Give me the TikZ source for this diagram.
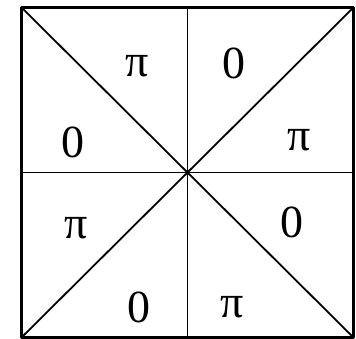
\documentclass[tikz,border=0pt]{standalone}
\usepackage{fontspec}
\setmainfont{Liberation Serif}
\usepackage{tkz-euclide}

\begin{document}
\begin{tikzpicture}[x=1pt,y=1pt,
  Lbl/.style={font=\fontsize{46}{46}\selectfont,inner sep=0pt}]
\useasboundingbox (0,0) rectangle (356,339);
\tkzSetUpLine[line width=1.8pt,color=black]

\tkzDefPoints{21.5/1.5/A,353.5/1.5/B,353.5/331.5/C,21.5/331.5/D}
\tkzDefPoints{187.5/1.5/S,187.5/331.5/N,21.5/166.5/W,353.5/166.5/E}
\tkzDefPoint(187.5,166.5){O}

\tkzDrawSegments(A,C B,D S,N W,E)
\tkzDrawPolygon[line width=2.4pt](A,B,C,D)

\node[Lbl] (PiNW) at (137,273) {π};
\node[Lbl] (ZeroNE) at (234,276) {0};
\node[Lbl] (ZeroWN) at (73,197) {0};
\node[Lbl] (PiEN) at (299,199) {π};
\node[Lbl] (PiWS) at (76,111) {π};
\node[Lbl] (ZeroES) at (292,117) {0};
\node[Lbl] (ZeroSW) at (139,32) {0};
\node[Lbl] (PiSE) at (232,32) {π};

\end{tikzpicture}
\end{document}
